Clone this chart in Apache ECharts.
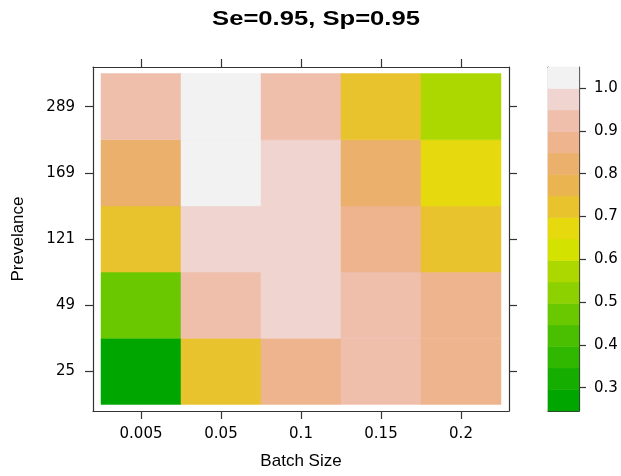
<!DOCTYPE html>
<html>
<head>
<meta charset="utf-8">
<script src="https://cdn.jsdelivr.net/npm/echarts@6/dist/echarts.min.js"></script>
<style>
  html, body { margin: 0; padding: 0; background: #ffffff; }
  #chart { width: 621px; height: 476px; }
</style>
</head>
<body>
<div id="chart"></div>
<script>
// Batch sizes (x) and prevalences (y, bottom to top)
const batchSizes = ['0.005', '0.05', '0.1', '0.15', '0.2'];
const prevalences = ['25', '49', '121', '169', '289'];

// Values per prevalence row, one per batch size
const prev25  = [0.295, 0.72, 0.87, 0.92, 0.87];
const prev49  = [0.47, 0.92, 0.97, 0.92, 0.87];
const prev121 = [0.72, 0.97, 0.97, 0.87, 0.72];
const prev169 = [0.82, 1.00, 0.97, 0.82, 0.67];
const prev289 = [0.92, 1.00, 0.92, 0.72, 0.57];

// Colour key tick labels
const keyTicks = [0.3, 0.4, 0.5, 0.6, 0.7, 0.8, 0.9, 1.0];

const rows = [prev25, prev49, prev121, prev169, prev289];
const cells = [];
rows.forEach((row, yi) => row.forEach((v, xi) => cells.push([xi, yi, v])));

// R-style terrain palette
function hsv(h, s, v) {
  const i = Math.floor(h * 6) % 6;
  const f = h * 6 - Math.floor(h * 6);
  const p = v * (1 - s), q = v * (1 - f * s), t = v * (1 - (1 - f) * s);
  const rgb = [[v, t, p], [q, v, p], [p, v, t], [p, q, v], [t, p, v], [v, p, q]][i];
  return '#' + rgb.map(c => Math.round(c * 255).toString(16).padStart(2, '0')).join('');
}
function terrain(n) {
  const k = Math.floor(n / 2);
  const out = [];
  for (let i = 0; i < k; i++) {
    const t = k > 1 ? i / (k - 1) : 0;
    out.push(hsv(4 / 12 + (2 / 12 - 4 / 12) * t, 1, 0.65 + 0.25 * t));
  }
  const m = n - k + 1;
  for (let j = 1; j < m; j++) {
    const t = j / (m - 1);
    out.push(hsv(2 / 12 * (1 - t), 1 - t, 0.9 + 0.05 * t));
  }
  return out;
}

// Colour breaks: data range extended by 7% each side, 16 regions
const allVals = cells.map(c => c[2]);
const zMin = Math.min(...allVals), zMax = Math.max(...allVals);
const ext = 0.07 * (zMax - zMin);
const nReg = 16;
const breaks = [];
for (let i = 0; i <= nReg; i++) breaks.push(zMin - ext + i * (zMax - zMin + 2 * ext) / nReg);
const pal = terrain(100);
const regionColors = [];
for (let i = 0; i < nReg; i++) regionColors.push(pal[Math.floor(1 + i * 99 / (nReg - 1)) - 1]);

const pieces = regionColors.map((c, i) => (
  i < nReg - 1 ? { gte: breaks[i], lt: breaks[i + 1], color: c } : { gte: breaks[i], lte: breaks[i + 1], color: c }
));
const keyData = regionColors.map((c, i) => [breaks[i], breaks[i + 1], i]);

const FONT = 'Liberation Sans, Arial, Helvetica, sans-serif';
const TICKFONT = 'DejaVu Sans, sans-serif';
const lineStyle = { color: '#333', width: 1.2 };
const tickIdx = [0, 1, 2, 3, 4];

const chart = echarts.init(document.getElementById('chart'), null, { renderer: 'canvas' });

const frameAxis = (extra) => Object.assign({
  type: 'value', min: -0.6, max: 4.6,
  axisLine: { show: true, onZero: false, lineStyle },
  splitLine: { show: false },
  axisTick: { show: true, inside: false, length: 8, lineStyle, customValues: tickIdx },
  axisLabel: { show: false }
}, extra);

chart.setOption({
  animation: false,
  backgroundColor: '#ffffff',
  grid: [
    { left: 93, top: 67, width: 416, height: 344 },
    { left: 548, top: 67, width: 31, height: 344 }
  ],
  xAxis: [
    frameAxis({
      gridIndex: 0, position: 'bottom',
      axisLabel: {
        show: true, customValues: tickIdx, margin: 16,
        formatter: v => batchSizes[Math.round(v)],
        fontFamily: TICKFONT, fontSize: 15, color: '#000'
      },
      name: 'Batch Size', nameLocation: 'middle', nameGap: 42,
      nameTextStyle: { fontFamily: FONT, fontSize: 17, color: '#000' }
    }),
    frameAxis({ gridIndex: 0, position: 'top' }),
    { type: 'value', gridIndex: 1, position: 'bottom', min: 0, max: 1,
      axisLine: { show: true, onZero: false, lineStyle }, axisTick: { show: false },
      axisLabel: { show: false }, splitLine: { show: false } },
    { type: 'value', gridIndex: 1, position: 'top', min: 0, max: 1,
      axisLine: { show: true, onZero: false, lineStyle }, axisTick: { show: false },
      axisLabel: { show: false }, splitLine: { show: false } }
  ],
  yAxis: [
    frameAxis({
      gridIndex: 0, position: 'left',
      axisLabel: {
        show: true, customValues: tickIdx, margin: 18,
        formatter: v => prevalences[Math.round(v)],
        fontFamily: TICKFONT, fontSize: 15, color: '#000'
      },
      name: 'Prevelance', nameLocation: 'middle', nameGap: 66,
      nameTextStyle: { fontFamily: FONT, fontSize: 17, color: '#000' }
    }),
    frameAxis({ gridIndex: 0, position: 'right' }),
    { type: 'value', gridIndex: 1, position: 'left', min: breaks[0], max: breaks[nReg],
      axisLine: { show: true, onZero: false, lineStyle }, axisTick: { show: false },
      axisLabel: { show: false }, splitLine: { show: false } },
    { type: 'value', gridIndex: 1, position: 'right', min: breaks[0], max: breaks[nReg],
      axisLine: { show: true, onZero: false, lineStyle },
      axisTick: { show: true, inside: false, length: 7, lineStyle, customValues: keyTicks },
      axisLabel: { show: true, customValues: keyTicks, margin: 15,
        formatter: v => v.toFixed(1), fontFamily: TICKFONT, fontSize: 15, color: '#000' },
      splitLine: { show: false } }
  ],
  visualMap: {
    type: 'piecewise', show: false, seriesIndex: 0, dimension: 2, pieces: pieces
  },
  series: [
    {
      type: 'custom', xAxisIndex: 0, yAxisIndex: 0, data: cells,
      renderItem: (params, api) => {
        const x = api.value(0), y = api.value(1);
        const p0 = api.coord([x - 0.5, y + 0.5]);
        const p1 = api.coord([x + 0.5, y - 0.5]);
        const c = api.visual('color');
        return { type: 'rect',
          shape: { x: p0[0], y: p0[1], width: p1[0] - p0[0], height: p1[1] - p0[1] },
          style: { fill: c, stroke: c, lineWidth: 0.5 } };
      }
    },
    {
      type: 'custom', xAxisIndex: 2, yAxisIndex: 2, data: keyData,
      renderItem: (params, api) => {
        const top = api.coord([0, api.value(1)]);
        const bot = api.coord([1, api.value(0)]);
        const c = regionColors[api.value(2)];
        return { type: 'rect',
          shape: { x: top[0], y: top[1], width: bot[0] - top[0], height: bot[1] - top[1] },
          style: { fill: c, stroke: c, lineWidth: 0.5 } };
      }
    }
  ],
  graphic: [
    { type: 'text', x: 316, y: 19, scaleX: 1.28,
      style: { text: 'Se=0.95, Sp=0.95', align: 'center', verticalAlign: 'middle',
        font: 'bold 20px ' + FONT, fill: '#000' } }
  ]
});
</script>
</body>
</html>
